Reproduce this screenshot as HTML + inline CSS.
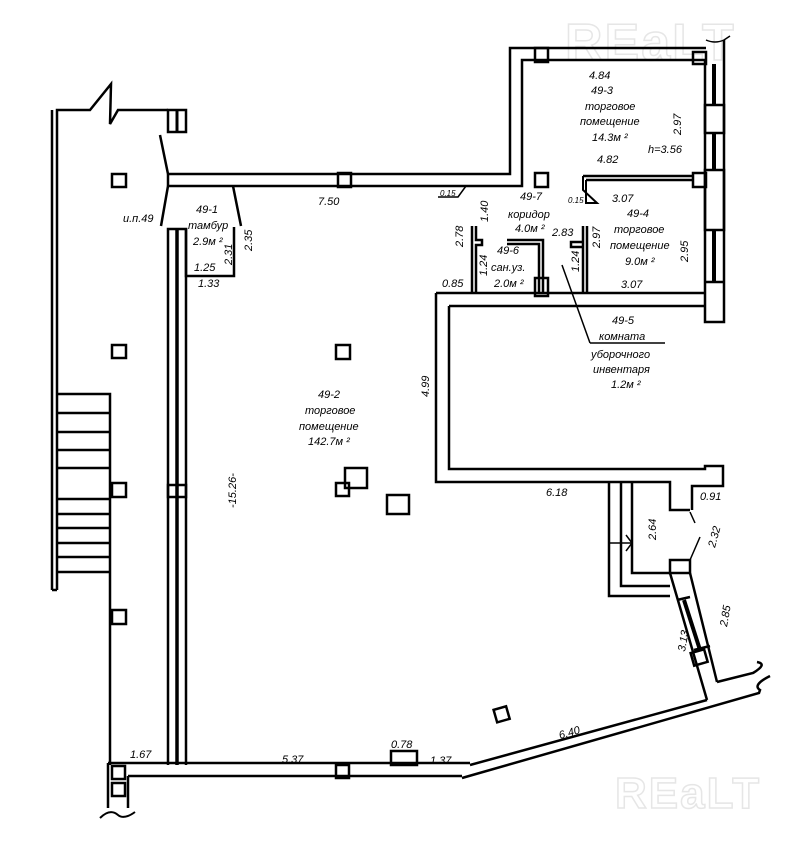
<!DOCTYPE html>
<html><head><meta charset="utf-8"><style>
html,body{margin:0;padding:0;background:#fff}
svg{display:block}
text{font-family:"Liberation Sans",sans-serif;font-style:italic;font-size:11px;fill:#000}
</style></head><body>
<svg width="808" height="849" viewBox="0 0 808 849" xmlns="http://www.w3.org/2000/svg">
<text x="565" y="60" style="font-size:52px;font-style:normal;fill:none;stroke:#e6e6e6;stroke-width:1.5;font-weight:bold;letter-spacing:2px">REaLT</text>
<text x="615" y="808" style="font-size:44px;font-style:normal;fill:none;stroke:#e6e6e6;stroke-width:1.5;font-weight:bold;letter-spacing:2px">REaLT</text>
<g fill="none" stroke="#000" stroke-width="2.5" stroke-linejoin="miter">
<path d="M57,590 V110 H90 L111,84 L110,124 L118,110 H168"/>
<path d="M52,590 V110"/>
<path d="M52,590 H57"/>
<rect x="168" y="110" width="18" height="22"/>
<line x1="177" y1="110" x2="177" y2="132" stroke-width="3"/>
<path d="M57,394 H110 V765"/>
<path d="M57,413H110M57,432H110M57,450H110M57,468H110M57,499H110M57,514H110M57,528H110M57,543H110M57,557H110M57,572H110"/>
<rect x="112" y="174" width="14" height="13"/>
<rect x="112" y="345" width="14" height="13"/>
<rect x="112" y="483" width="14" height="14"/>
<rect x="112" y="610" width="14" height="14"/>
<path d="M160,135 L168,174 M168,186 L161,226"/>
<path d="M168,174 H510 V48 H706 M168,186 H522 V60 H705"/>
<path d="M168,174 V186"/>
<rect x="338" y="173" width="13" height="14"/>
<rect x="535" y="48" width="13" height="14"/>
<rect x="535" y="173" width="13" height="14"/>
<rect x="693" y="52" width="13" height="12"/>
<rect x="693" y="173" width="13" height="14"/>
<path d="M705,60 V282 M724,40 V282"/>
<path d="M705,282 V306 M724,282 V322 H705 V306"/>
<rect x="705" y="105" width="19" height="28"/>
<rect x="705" y="170" width="19" height="60"/>
<path d="M714,64 V105 M714,133 V170 M714,230 V282" stroke-width="4"/>
<path d="M705,282 H724"/>
<path d="M706,40 Q715,44 724,40 L730,36" stroke-width="1.5"/>
<path d="M583,176 H693 M586,180 H693"/>
<path d="M583,176 V190 L597,203 H586 V180" stroke-width="2"/>
<path d="M466,186 L458,197 H438" stroke-width="1.5"/>
<path d="M233,186 L241,226"/>
<path d="M186,228 V276 H234 V227"/>
<path d="M168,765 V229 H186 V765"/>
<line x1="177" y1="229" x2="177" y2="765" stroke-width="3.5"/>
<rect x="168" y="485" width="18" height="12"/>
<path d="M472,226 V293 M476,226 V240 H482 V245 H476 V293"/>
<path d="M507,240 H543 V293 M507,244 H539 V293"/>
<rect x="535" y="278" width="13" height="18"/>
<path d="M583,226 V293 M587,226 V293 M583,242 H571 V247 H583"/>
<line x1="562" y1="265" x2="590" y2="343" stroke-width="1.5"/>
<line x1="590" y1="343" x2="665" y2="343" stroke-width="1.5"/>
<path d="M436,293 H705 M449,306 H705"/>
<path d="M436,293 V482 H670 V510 H690"/>
<path d="M449,306 V469 H705 V466 H723 V486 H692 V510"/>
<path d="M609,483 V596 H670 M621,483 V586 H670 M632,483 V573 H670"/>
<path d="M609,543 H632 M626,535 L632,543 L626,551" stroke-width="1.5"/>
<path d="M690,512 L695,523 M690,560 L700,537" stroke-width="1.5"/>
<rect x="670" y="560" width="20" height="13"/>
<path d="M670,573 L707,700 M690,573 L717,682"/>
<path d="M677,600 L690,597 M694,650 L710,646"/>
<path d="M684,600 L700,650" stroke-width="4"/>
<rect x="692" y="651" width="14" height="13" transform="rotate(-16 699 657)"/>
<path d="M717,682 L753,673 Q768,664 757,662"/>
<path d="M707,700 L470,765"/>
<path d="M462,778 L759,693 L760,690 Q752,685 770,676"/>
<path d="M108,763 H470 M128,776 H462"/>
<path d="M108,763 V808 M128,776 V808"/>
<path d="M100,818 Q110,808 118,815 Q124,820 135,812" stroke-width="2"/>
<rect x="112" y="766" width="13" height="13"/>
<rect x="112" y="783" width="13" height="13"/>
<rect x="336" y="765" width="13" height="13"/>
<rect x="391" y="751" width="26" height="14"/>
<rect x="336" y="345" width="14" height="14"/>
<rect x="345" y="468" width="22" height="20"/>
<rect x="336" y="483" width="13" height="13"/>
<rect x="387" y="495" width="22" height="19"/>
<rect x="495" y="708" width="13" height="13" transform="rotate(-16 501 714)"/>
</g>
<text x="589" y="79">4.84</text>
<text x="591" y="94">49-3</text>
<text x="585" y="110">торговое</text>
<text x="580" y="125">помещение</text>
<text x="592" y="141">14.3м ²</text>
<text x="597" y="163">4.82</text>
<text x="648" y="153">h=3.56</text>
<text transform="translate(681,135) rotate(-90)">2.97</text>
<text x="520" y="200">49-7</text>
<text x="508" y="218">коридор</text>
<text x="515" y="232">4.0м ²</text>
<text x="552" y="236">2.83</text>
<text x="612" y="202">3.07</text>
<text x="627" y="217">49-4</text>
<text x="614" y="233">торговое</text>
<text x="610" y="249">помещение</text>
<text x="625" y="265">9.0м ²</text>
<text x="621" y="288">3.07</text>
<text transform="translate(688,262) rotate(-90)">2.95</text>
<text transform="translate(600,248) rotate(-90)">2.97</text>
<text transform="translate(579,272) rotate(-90)">1.24</text>
<text transform="translate(488,222) rotate(-90)">1.40</text>
<text transform="translate(463,247) rotate(-90)">2.78</text>
<text transform="translate(487,276) rotate(-90)">1.24</text>
<text x="497" y="254">49-6</text>
<text x="491" y="271">сан.уз.</text>
<text x="494" y="287">2.0м ²</text>
<text x="442" y="287">0.85</text>
<text x="440" y="196" style="font-size:8px">0.15</text>
<text x="568" y="203" style="font-size:8px">0.15</text>
<text x="612" y="324">49-5</text>
<text x="599" y="340">комната</text>
<text x="591" y="358">уборочного</text>
<text x="593" y="373">инвентаря</text>
<text x="611" y="388">1.2м ²</text>
<text transform="translate(429,397) rotate(-90)">4.99</text>
<text x="546" y="496">6.18</text>
<text x="700" y="500">0.91</text>
<text transform="translate(656,540) rotate(-90)">2.64</text>
<text transform="translate(715,548) rotate(-75)">2.32</text>
<text transform="translate(685,652) rotate(-80)">3.13</text>
<text transform="translate(727,627) rotate(-80)">2.85</text>
<text transform="translate(560,739) rotate(-16)">6.40</text>
<text x="318" y="205">7.50</text>
<text x="123" y="222">и.п.49</text>
<text x="196" y="213">49-1</text>
<text x="188" y="229">тамбур</text>
<text x="193" y="245">2.9м ²</text>
<text transform="translate(252,251) rotate(-90)">2.35</text>
<text transform="translate(232,265) rotate(-90)">2.31</text>
<text x="194" y="271">1.25</text>
<text x="198" y="287">1.33</text>
<text x="318" y="398">49-2</text>
<text x="305" y="414">торговое</text>
<text x="299" y="430">помещение</text>
<text x="308" y="445">142.7м ²</text>
<text transform="translate(236,508) rotate(-90)">-15.26-</text>
<text x="130" y="758">1.67</text>
<text x="282" y="763">5.37</text>
<text x="391" y="748">0.78</text>
<text x="430" y="764">1.37</text>
</svg>
</body></html>
